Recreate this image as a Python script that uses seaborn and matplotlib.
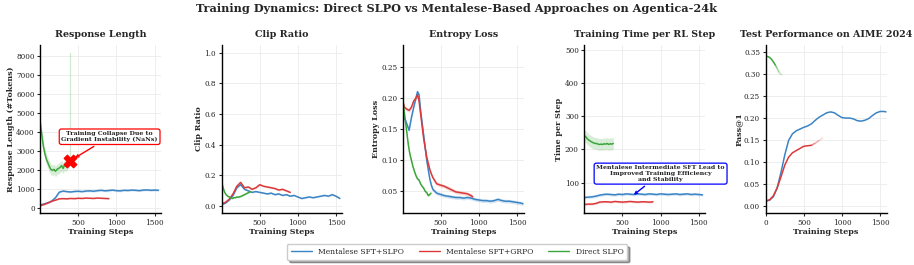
import numpy as np
import pandas as pd
import matplotlib
matplotlib.use("Agg")
import matplotlib.pyplot as plt
import seaborn as sns

# ---------------- data ----------------
series_names = ["Mentalese SFT+SLPO", "Mentalese SFT+GRPO", "Direct SLPO"]

grid_blue = list(range(0, 1551, 50))
grid_red = list(range(0, 901, 50))
grid_green = list(range(0, 381, 20))

# Response length
rl_blue = [180, 230, 290, 380, 560, 850, 910, 880, 860, 890, 900, 880, 910, 920, 900, 930,
           950, 920, 940, 960, 930, 920, 950, 940, 960, 950, 930, 960, 970, 950, 960, 950]
rl_red = [140, 200, 280, 370, 430, 500, 510, 500, 520, 510, 530, 520, 540, 530, 520, 540,
          530, 520, 510]
rl_green = [4500, 3900, 3300, 2900, 2600, 2400, 2200, 2050, 2000, 2050, 1950, 2050, 2100,
            2150, 2250, 2100, 2300, 2200, 2350, 2400]
rl_spread = [50, 25, 280]
collapse_step = 385
collapse_value = 2500
collapse_peak = 8200

# Clip ratio
cr_blue = [0.010, 0.020, 0.040, 0.070, 0.120, 0.140, 0.110, 0.100, 0.090, 0.095, 0.090, 0.085,
           0.080, 0.085, 0.075, 0.080, 0.070, 0.075, 0.065, 0.070, 0.060, 0.050, 0.055, 0.060,
           0.055, 0.060, 0.065, 0.070, 0.065, 0.075, 0.065, 0.050]
cr_red = [0.015, 0.025, 0.045, 0.080, 0.130, 0.155, 0.120, 0.125, 0.110, 0.120, 0.140, 0.130,
          0.125, 0.120, 0.115, 0.105, 0.110, 0.100, 0.090]
cr_green = [0.160, 0.120, 0.090, 0.075, 0.065, 0.060, 0.055, 0.050, 0.055, 0.055, 0.060, 0.058,
            0.062, 0.065, 0.070, 0.075, 0.080, 0.085, 0.090, 0.095]
cr_spread = [0.005, 0.006, 0.005]

# Entropy loss
el_blue_x = [10, 40, 70, 90, 120, 150, 180, 200, 220, 240, 260, 280, 300, 320, 340, 360, 380,
             400, 450, 500, 550, 600, 650, 700, 750, 800, 850, 900, 950, 1000, 1050, 1100,
             1150, 1200, 1250, 1300, 1350, 1400, 1450, 1500, 1550, 1575]
el_blue = [0.172, 0.165, 0.155, 0.148, 0.168, 0.185, 0.200, 0.210, 0.205, 0.180, 0.160, 0.140,
           0.120, 0.100, 0.085, 0.070, 0.060, 0.053, 0.047, 0.045, 0.043, 0.042, 0.041, 0.040,
           0.040, 0.039, 0.040, 0.039, 0.037, 0.036, 0.035, 0.035, 0.034, 0.035, 0.037, 0.035,
           0.034, 0.034, 0.033, 0.032, 0.031, 0.030]
el_red_x = [0, 30, 60, 90, 120, 150, 180, 200, 220, 240, 260, 280, 300, 320, 340, 360, 380,
            400, 450, 500, 550, 600, 650, 700, 750, 800, 850, 900, 920]
el_red = [0.198, 0.185, 0.182, 0.180, 0.185, 0.195, 0.200, 0.205, 0.195, 0.175, 0.155, 0.135,
          0.120, 0.105, 0.095, 0.085, 0.078, 0.072, 0.062, 0.060, 0.058, 0.055, 0.052, 0.049,
          0.048, 0.047, 0.046, 0.043, 0.041]
el_green_x = [0, 20, 40, 60, 80, 100, 120, 140, 160, 180, 200, 220, 240, 260, 280, 300, 320,
              340, 360, 375]
el_green = [0.200, 0.185, 0.165, 0.145, 0.125, 0.110, 0.100, 0.090, 0.082, 0.075, 0.070, 0.068,
            0.062, 0.058, 0.055, 0.050, 0.048, 0.043, 0.045, 0.047]
el_spread = [0.003, 0.003, 0.002]

# Training time per step
tt_blue = [55, 56, 57, 59, 62, 64, 65, 64, 63, 65, 64, 66, 65, 64, 66, 65, 64, 66, 65, 64,
           66, 65, 64, 65, 66, 64, 65, 66, 64, 65, 64, 63]
tt_red = [34, 35, 35, 37, 41, 42, 42, 41, 43, 42, 41, 42, 43, 42, 41, 42, 42, 41, 42]
tt_green = [242, 238, 232, 228, 225, 222, 220, 218, 218, 216, 215, 216, 215, 217, 216, 218,
            215, 217, 216, 218]
tt_spread = [4, 3, 18]

# AIME 2024 pass@1
aime_blue_x = list(range(0, 1551, 50)) + [1575]
aime_blue = [0.010, 0.012, 0.020, 0.040, 0.075, 0.115, 0.148, 0.163, 0.170, 0.174, 0.178,
             0.181, 0.186, 0.194, 0.201, 0.206, 0.211, 0.213, 0.211, 0.205, 0.200, 0.199,
             0.199, 0.197, 0.193, 0.192, 0.194, 0.198, 0.205, 0.211, 0.214, 0.214, 0.213]
aime_red_x = list(range(0, 751, 50))
aime_red = [0.011, 0.013, 0.022, 0.040, 0.065, 0.092, 0.110, 0.120, 0.125, 0.130, 0.135,
            0.136, 0.137, 0.142, 0.148, 0.154]
aime_green_x = [0, 25, 50, 75, 100, 125, 150, 175, 200, 225]
aime_green = [0.340, 0.339, 0.337, 0.333, 0.327, 0.320, 0.312, 0.303, 0.298, 0.297]

titles = ["Response Length", "Clip Ratio", "Entropy Loss", "Training Time per RL Step",
          "Test Performance on AIME 2024"]
ylabels = ["Response Length (#Tokens)", "Clip Ratio", "Entropy Loss", "Time per Step", "Pass@1"]
suptitle = "Training Dynamics: Direct SLPO vs Mentalese-Based Approaches on Agentica-24k"

# ---------------- style ----------------
sns.set_theme(style="whitegrid")
plt.rcParams["font.family"] = ["DejaVu Serif"]
plt.rcParams.update({
    "axes.edgecolor": "black",
    "axes.linewidth": 1.0,
    "grid.color": "#ebebeb",
    "grid.linewidth": 0.6,
    "xtick.bottom": True,
    "ytick.left": True,
    "xtick.major.size": 2.5,
    "ytick.major.size": 2.5,
    "xtick.major.width": 0.8,
    "ytick.major.width": 0.8,
    "xtick.major.pad": 1.5,
    "ytick.major.pad": 1.5,
})
colors = ["#3b84c4", "#dc3a3a", "#3ba63b"]

fig, axes = plt.subplots(1, 5, figsize=(9.14, 2.65), dpi=100)
fig.subplots_adjust(left=0.044, right=0.970, top=0.830, bottom=0.196, wspace=0.50)


def draw(ax, x, y, color, spread, label=None):
    df = pd.DataFrame({"step": x, "val": y})
    sns.lineplot(data=df, x="step", y="val", ax=ax, color=color, lw=1.1, label=label,
                 legend=False)
    ya = np.asarray(y, dtype=float)
    ax.fill_between(x, ya - spread, ya + spread, color=color, alpha=0.2, lw=0)


def draw_fading(ax, x, y, color, n_solid):
    df = pd.DataFrame({"step": x[:n_solid + 1], "val": y[:n_solid + 1]})
    sns.lineplot(data=df, x="step", y="val", ax=ax, color=color, lw=1.1, legend=False)
    k = len(x) - n_solid - 1
    for i in range(k):
        j = n_solid + i
        a = 0.8 * (1 - (i + 1) / (k + 1))
        ax.plot(x[j:j + 2], y[j:j + 2], color=color, lw=1.1, alpha=a, solid_capstyle="butt")


# Panel 1
ax = axes[0]
draw(ax, grid_blue, rl_blue, colors[0], rl_spread[0])
draw(ax, grid_red, rl_red, colors[1], rl_spread[1])
draw(ax, grid_green, rl_green, colors[2], rl_spread[2])
ax.plot([collapse_step, collapse_step], [rl_green[-1], collapse_peak], color=colors[2],
        alpha=0.25, lw=0.8)
ax.scatter([collapse_step], [collapse_value], marker="X", s=80, color="red", zorder=5,
           edgecolor="red")
ax.annotate("Training Collapse Due to\nGradient Instability (NaNs)",
            xy=(collapse_step + 40, collapse_value + 80), xytext=(910, 3770),
            ha="center", va="center", fontsize=4.5, fontweight="bold",
            bbox=dict(boxstyle="round,pad=0.35", fc="white", ec="red", lw=0.9),
            arrowprops=dict(arrowstyle="->", color="red", lw=1.0))
ax.set_xlim(0, 1585)
ax.set_ylim(-250, 8600)

# Panel 2
ax = axes[1]
draw(ax, grid_blue, cr_blue, colors[0], cr_spread[0])
draw(ax, grid_red, cr_red, colors[1], cr_spread[1])
draw(ax, grid_green, cr_green, colors[2], cr_spread[2])
ax.set_xlim(0, 1585)
ax.set_ylim(-0.045, 1.05)

# Panel 3
ax = axes[2]
draw(ax, el_blue_x, el_blue, colors[0], el_spread[0])
draw(ax, el_red_x, el_red, colors[1], el_spread[1])
draw(ax, el_green_x, el_green, colors[2], el_spread[2])
ax.set_xlim(10, 1587)
ax.set_ylim(0.015, 0.285)
ax.set_yticks([0.05, 0.10, 0.15, 0.20, 0.25])

# Panel 4
ax = axes[3]
draw(ax, grid_blue, tt_blue, colors[0], tt_spread[0])
draw(ax, grid_red, tt_red, colors[1], tt_spread[1])
draw(ax, grid_green, tt_green, colors[2], tt_spread[2])
ax.annotate("Mentalese Intermediate SFT Lead to\nImproved Training Efficiency\nand Stability",
            xy=(620, 58), xytext=(1000, 127),
            ha="center", va="center", fontsize=4.5, fontweight="bold",
            bbox=dict(boxstyle="round,pad=0.35", fc="white", ec="blue", lw=0.9),
            arrowprops=dict(arrowstyle="->", color="blue", lw=1.0), annotation_clip=False)
ax.set_xlim(0, 1585)
ax.set_ylim(8, 515)
ax.set_yticks([100, 200, 300, 400, 500])

# Panel 5
ax = axes[4]
draw_fading(ax, aime_blue_x, aime_blue, colors[0], len(aime_blue_x) - 1)
draw_fading(ax, aime_red_x, aime_red, colors[1], 12)
draw_fading(ax, aime_green_x, aime_green, colors[2], 5)
ax.set_xlim(0, 1583)
ax.set_ylim(-0.017, 0.365)
ax.set_yticks([0.0, 0.05, 0.10, 0.15, 0.20, 0.25, 0.30, 0.35])
ax.yaxis.set_major_formatter(matplotlib.ticker.FormatStrFormatter("%.2f"))

for i, ax in enumerate(axes):
    ax.set_title(titles[i], fontsize=6.8, fontweight="bold", pad=6)
    ax.set_xlabel("Training Steps", fontsize=5.8, fontweight="bold", labelpad=1)
    ax.set_ylabel(ylabels[i], fontsize=5.8, fontweight="bold", labelpad=1)
    ax.set_xticks([0, 500, 1000, 1500] if i == 4 else [500, 1000, 1500])
    ax.tick_params(labelsize=5.2)
    sns.despine(ax=ax)
    ax.set_axisbelow(True)

handles = [matplotlib.lines.Line2D([], [], color=c, lw=1.0) for c in colors]
fig.legend(handles, series_names, loc="lower center", bbox_to_anchor=(0.5, 0.005), ncol=3,
           fontsize=5.5, frameon=True, shadow=True, fancybox=True, edgecolor="#cccccc",
           handlelength=2.8, columnspacing=1.9, borderpad=0.5)
fig.suptitle(suptitle, fontsize=8.1, fontweight="bold", y=0.99)

fig.savefig("out.png", dpi=100)
